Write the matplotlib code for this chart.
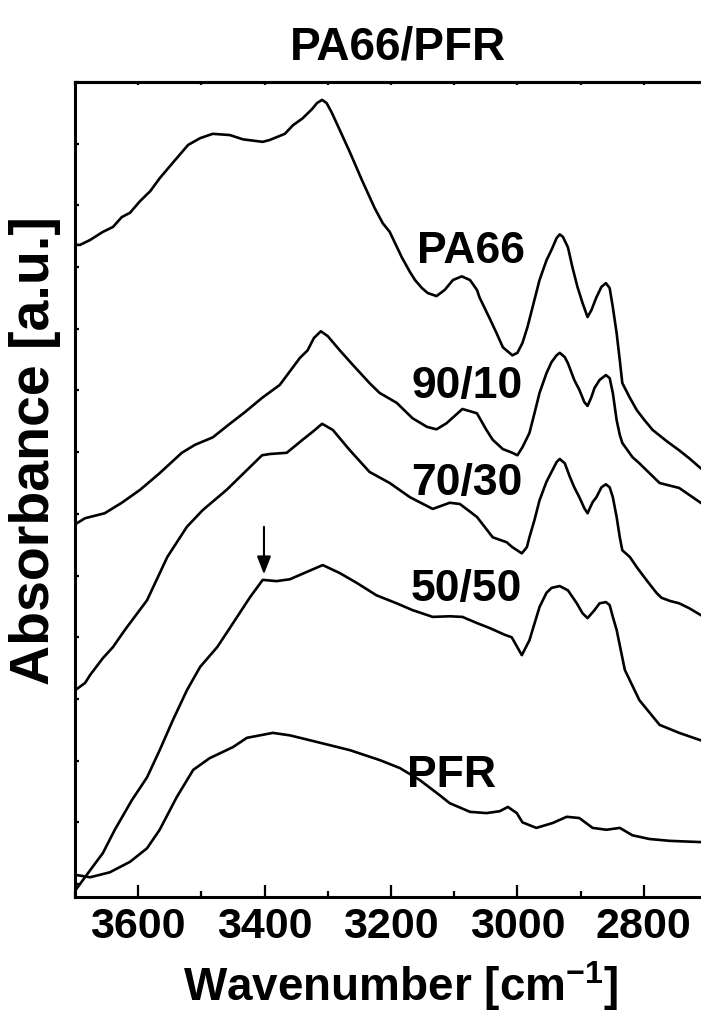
import matplotlib
matplotlib.use("Agg")
import matplotlib.pyplot as plt
from matplotlib.ticker import MultipleLocator

plt.rcParams['font.family'] = ['Liberation Sans', 'DejaVu Sans']
plt.rcParams['font.weight'] = 'bold'
plt.rcParams['mathtext.fontset'] = 'custom'
plt.rcParams['mathtext.rm'] = 'Liberation Sans:bold'
plt.rcParams['mathtext.bf'] = 'Liberation Sans:bold'
plt.rcParams['mathtext.it'] = 'Liberation Sans:bold'

# FTIR spectra (wavenumber in cm^-1, absorbance in arbitrary offset units)
pa66_wn = [3700, 3692, 3676, 3656, 3640, 3626, 3613, 3597, 3581, 3566, 3542, 3521,
           3502, 3482, 3455, 3434, 3403, 3392, 3368, 3355, 3340, 3325, 3317, 3309,
           3302, 3294, 3281, 3265, 3246, 3226, 3213, 3202, 3183, 3170, 3162, 3151,
           3142, 3128, 3115, 3102, 3088, 3075, 3064, 3060, 3044, 3033, 3023, 3008,
           3000, 2992, 2984, 2976, 2965, 2954, 2946, 2938, 2933, 2928, 2920, 2913,
           2905, 2897, 2889, 2883, 2875, 2867, 2860, 2854, 2849, 2843, 2838, 2834,
           2822, 2811, 2799, 2786, 2764, 2744, 2728, 2710, 2700]
pa66_ab = [10.36, 10.36, 10.44, 10.57, 10.65, 10.81, 10.88, 11.07, 11.23, 11.44, 11.73, 11.98,
           12.09, 12.16, 12.14, 12.07, 12.03, 12.06, 12.16, 12.30, 12.41, 12.56, 12.66, 12.71,
           12.66, 12.51, 12.22, 11.86, 11.41, 10.96, 10.71, 10.57, 10.16, 9.92, 9.79, 9.66,
           9.58, 9.53, 9.63, 9.79, 9.85, 9.79, 9.63, 9.51, 9.17, 8.93, 8.70, 8.57,
           8.61, 8.77, 9.03, 9.35, 9.79, 10.11, 10.28, 10.47, 10.53, 10.49, 10.32, 10.00,
           9.68, 9.42, 9.19, 9.30, 9.51, 9.68, 9.74, 9.66, 9.35, 8.93, 8.49, 8.12,
           7.88, 7.68, 7.52, 7.36, 7.18, 7.03, 6.90, 6.74, 6.66]

b9010_wn = [3700, 3684, 3653, 3626, 3597, 3566, 3531, 3510, 3482, 3455, 3431, 3404,
            3376, 3344, 3332, 3322, 3311, 3300, 3281, 3260, 3234, 3218, 3191, 3166,
            3143, 3128, 3112, 3087, 3064, 3049, 3039, 3023, 3008, 3000, 2992, 2981,
            2973, 2965, 2954, 2946, 2938, 2933, 2925, 2920, 2910, 2902, 2894, 2889,
            2883, 2878, 2870, 2860, 2854, 2849, 2843, 2838, 2834, 2818, 2807, 2775,
            2744, 2710, 2700]
b9010_ab = [5.83, 5.93, 6.01, 6.18, 6.39, 6.66, 6.99, 7.12, 7.24, 7.46, 7.65, 7.88,
            8.09, 8.53, 8.65, 8.85, 8.96, 8.88, 8.65, 8.41, 8.12, 7.96, 7.80, 7.55,
            7.41, 7.37, 7.47, 7.70, 7.63, 7.36, 7.20, 7.05, 6.99, 6.95, 7.08, 7.31,
            7.63, 7.96, 8.28, 8.46, 8.57, 8.61, 8.54, 8.44, 8.17, 8.01, 7.81, 7.75,
            7.89, 8.04, 8.17, 8.25, 8.20, 7.96, 7.52, 7.28, 7.15, 6.92, 6.82, 6.50,
            6.42, 6.18, 6.11]

b7030_wn = [3700, 3684, 3676, 3656, 3640, 3621, 3586, 3554, 3523, 3498, 3460, 3428,
            3404, 3392, 3365, 3340, 3324, 3309, 3292, 3265, 3234, 3202, 3170, 3134,
            3107, 3091, 3064, 3039, 3017, 3008, 2993, 2985, 2981, 2973, 2965, 2954,
            2946, 2938, 2933, 2925, 2917, 2910, 2902, 2894, 2889, 2881, 2875, 2867,
            2860, 2854, 2849, 2843, 2838, 2834, 2822, 2810, 2796, 2780, 2772, 2759,
            2744, 2728, 2710, 2700]
b7030_ab = [3.14, 3.26, 3.39, 3.66, 3.84, 4.12, 4.60, 5.30, 5.79, 6.06, 6.39, 6.71,
            6.95, 6.97, 6.99, 7.20, 7.33, 7.46, 7.36, 7.03, 6.68, 6.50, 6.27, 6.08,
            6.18, 6.16, 5.95, 5.62, 5.54, 5.46, 5.36, 5.46, 5.62, 5.90, 6.22, 6.52,
            6.68, 6.84, 6.89, 6.82, 6.60, 6.43, 6.27, 6.09, 6.01, 6.19, 6.27, 6.43,
            6.48, 6.43, 6.27, 5.95, 5.62, 5.41, 5.30, 5.12, 4.93, 4.72, 4.64, 4.59,
            4.55, 4.47, 4.36, 4.31]

b5050_wn = [3700, 3672, 3656, 3637, 3610, 3586, 3566, 3545, 3523, 3502, 3475, 3455,
            3423, 3403, 3381, 3360, 3333, 3308, 3281, 3254, 3223, 3191, 3166, 3134,
            3107, 3087, 3064, 3044, 3020, 3009, 2993, 2981, 2965, 2954, 2946, 2933,
            2920, 2906, 2897, 2889, 2878, 2870, 2860, 2854, 2849, 2843, 2830, 2807,
            2775, 2744, 2710, 2700]
b5050_ab = [-0.11, 0.28, 0.50, 0.88, 1.36, 1.73, 2.17, 2.66, 3.14, 3.52, 3.84, 4.15,
            4.65, 4.93, 4.91, 4.94, 5.06, 5.17, 5.04, 4.88, 4.68, 4.55, 4.44, 4.33,
            4.34, 4.33, 4.23, 4.15, 4.04, 4.00, 3.71, 3.95, 4.49, 4.72, 4.80, 4.83,
            4.76, 4.55, 4.39, 4.31, 4.44, 4.55, 4.57, 4.52, 4.33, 4.12, 3.47, 2.98,
            2.58, 2.45, 2.33, 2.30]

pfr_wn = [3700, 3676, 3645, 3613, 3586, 3566, 3539, 3513, 3487, 3450, 3428, 3387,
          3360, 3328, 3265, 3218, 3186, 3155, 3123, 3107, 3075, 3049, 3028, 3015,
          3001, 2992, 2970, 2944, 2922, 2902, 2881, 2859, 2838, 2818, 2791, 2759,
          2710, 2700]
pfr_ab = [0.15, 0.11, 0.19, 0.36, 0.58, 0.88, 1.41, 1.85, 2.04, 2.22, 2.37, 2.45,
          2.41, 2.33, 2.17, 2.01, 1.88, 1.69, 1.44, 1.31, 1.17, 1.15, 1.18, 1.25,
          1.15, 1.00, 0.91, 0.99, 1.09, 1.07, 0.91, 0.88, 0.91, 0.79, 0.73, 0.70,
          0.68, 0.68]

series = [(pa66_wn, pa66_ab), (b9010_wn, b9010_ab), (b7030_wn, b7030_ab),
          (b5050_wn, b5050_ab), (pfr_wn, pfr_ab)]

series_labels = ['PA66', '90/10', '70/30', '50/50', 'PFR']
label_wn = [3074, 3080, 3080, 3080, 3104]
label_ab = [10.06, 7.88, 6.30, 4.59, 1.57]

x_ticks = [3600, 3400, 3200, 3000, 2800]

fig = plt.figure(figsize=(7.01, 10.13), dpi=100)
ax = fig.add_axes([75 / 701, (1013 - 897) / 1013, (707 - 75) / 701, (897 - 82) / 1013])

for wn, ab in series:
    ax.plot(wn, ab, color='black', lw=1.9, solid_joinstyle='round')

for txt, xw, ya in zip(series_labels, label_wn, label_ab):
    ax.text(xw, ya, txt, ha='center', va='baseline', fontsize=32, fontweight='bold')

# shoulder marker on the 50/50 blend
ax.annotate('', xy=(3401, 5.02), xytext=(3401, 5.79),
            arrowprops=dict(arrowstyle='-|>,head_length=0.9,head_width=0.35',
                            color='black', lw=1.5, mutation_scale=12,
                            shrinkA=0, shrinkB=0))

ax.set_xlim(3700, 2700)
ax.set_ylim(-0.21, 13)
ax.set_xticks(x_ticks)
ax.set_xticklabels([str(t) for t in x_ticks])
ax.xaxis.set_minor_locator(MultipleLocator(100))
ax.yaxis.set_major_locator(MultipleLocator(1))

ax.tick_params(axis='x', which='major', direction='in', length=8.6, width=1.6,
               labelsize=31, pad=7)
ax.tick_params(axis='x', which='minor', direction='in', length=4.3, width=1.6)
ax.tick_params(axis='y', which='major', direction='in', length=3, width=1.6,
               labelleft=False)
for lbl in ax.get_xticklabels():
    lbl.set_fontweight('bold')

top = ax.secondary_xaxis('top')
top.set_xticks(x_ticks)
top.xaxis.set_minor_locator(MultipleLocator(100))
top.tick_params(axis='x', which='both', direction='in', length=2.5, width=1.6,
                labeltop=False)

for sp in ax.spines.values():
    sp.set_linewidth(2.2)
top.spines['top'].set_linewidth(2.2)

fig.text(398 / 701, 1 - 60 / 1013, 'PA66/PFR', ha='center', va='baseline',
         fontsize=33, fontweight='bold')
fig.text(401 / 701, 1 - 1001 / 1013, r'Wavenumber [cm$^{-1}$]', ha='center',
         va='baseline', fontsize=33, fontweight='bold')
fig.text(35 / 701, 1 - 451 / 1013, 'Absorbance [a.u.]', rotation=90, ha='center',
         va='center', fontsize=40, fontweight='bold')

fig.savefig('out.png', dpi=100)
